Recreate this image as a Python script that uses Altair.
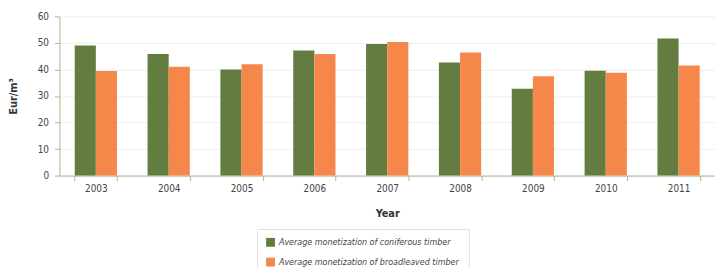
import altair as alt
import pandas as pd

years = ["2003", "2004", "2005", "2006", "2007", "2008", "2009", "2010", "2011"]
coniferous = [49, 45.8, 40, 47.1, 49.6, 42.6, 32.7, 39.5, 51.7]
broadleaved = [39.4, 41, 42, 45.8, 50.3, 46.4, 37.4, 38.8, 41.5]
series = ["Average monetization of coniferous timber", "Average monetization of broadleaved timber"]
colors = ["#627d3f", "#f5874b"]

rows = []
for i, y in enumerate(years):
    rows.append({"Year": y, "Series": series[0], "Value": coniferous[i]})
    rows.append({"Year": y, "Series": series[1], "Value": broadleaved[i]})
df = pd.DataFrame(rows)

font = "DejaVu Sans Condensed"

chart = alt.Chart(df).mark_bar().encode(
    x=alt.X("Year:N", sort=years, title="Year",
            scale=alt.Scale(paddingInner=0.42, paddingOuter=0.21),
            axis=alt.Axis(labelAngle=0, tickBand="extent", domainColor="#a9b98e",
                          tickColor="#a9b98e", labelColor="#444", labelFontSize=10,
                          titleFontSize=11, titleFontWeight="bold", titleColor="#333",
                          labelPadding=3, titlePadding=14, labelFont=font, titleFont=font)),
    xOffset=alt.XOffset("Series:N", sort=series),
    y=alt.Y("Value:Q", title="Eur/m³",
            scale=alt.Scale(domain=[0, 60]),
            axis=alt.Axis(values=[0, 10, 20, 30, 40, 50, 60], domainColor="#a9b98e",
                          tickColor="#a9b98e", gridColor="#eeeeee", labelColor="#444",
                          labelFontSize=10, titleFontSize=11, titleFontWeight="bold",
                          titleColor="#333", labelPadding=6, titlePadding=19,
                          labelFont=font, titleFont=font)),
    color=alt.Color("Series:N", sort=series,
                    scale=alt.Scale(domain=series, range=colors),
                    legend=alt.Legend(title=None, orient="none", legendX=200, legendY=215,
                                      direction="vertical", symbolType="square",
                                      symbolSize=80, symbolStrokeWidth=0,
                                      labelFont=font, labelFontSize=9, labelLimit=400,
                                      labelFontStyle="italic", labelColor="#444",
                                      strokeColor="#dddddd", padding=9,
                                      rowPadding=10, offset=0)),
).properties(
    width=663, height=161,
    autosize=alt.AutoSizeParams(type="none"),
    padding={"left": 52, "top": 7, "right": 0, "bottom": 92},
).configure_view(stroke=None)

chart.save("out.html", embed_options={"renderer": "svg", "actions": False})
